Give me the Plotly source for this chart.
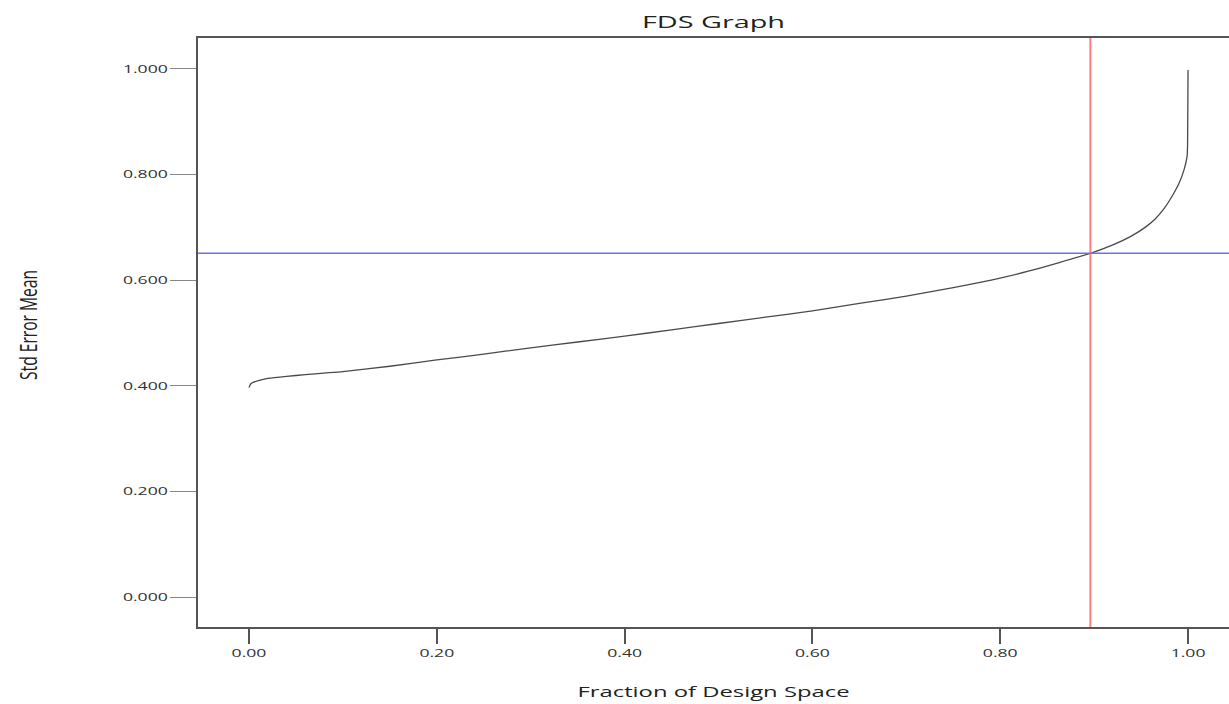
import plotly.graph_objects as go

fraction = [0.000, 0.002, 0.005, 0.01, 0.02, 0.04, 0.06, 0.08, 0.10, 0.15, 0.20, 0.25,
            0.30, 0.35, 0.40, 0.45, 0.50, 0.55, 0.60, 0.65, 0.70, 0.75, 0.80, 0.83,
            0.86, 0.896, 0.92, 0.94, 0.955, 0.965, 0.975, 0.983, 0.99, 0.9957, 0.999,
            0.9995, 1.000]
std_err = [0.397, 0.404, 0.407, 0.410, 0.414, 0.418, 0.421, 0.424, 0.427, 0.437, 0.449, 0.460,
           0.472, 0.483, 0.494, 0.506, 0.518, 0.530, 0.542, 0.556, 0.570, 0.586, 0.604, 0.617,
           0.632, 0.651, 0.667, 0.684, 0.701, 0.716, 0.737, 0.759, 0.782, 0.809, 0.835,
           0.860, 0.998]

ref_x = 0.896
ref_y = 0.651

x_ticks = [0.0, 0.2, 0.4, 0.6, 0.8, 1.0]
y_ticks = [0.0, 0.2, 0.4, 0.6, 0.8, 1.0]

fig = go.Figure()
fig.add_trace(go.Scatter(x=fraction, y=std_err, mode="lines",
                         line=dict(color="#4a4a4a", width=1.3, shape="spline", smoothing=0.6),
                         showlegend=False, hoverinfo="x+y"))

fig.add_shape(type="line", xref="x", yref="paper", x0=ref_x, x1=ref_x, y0=0, y1=1,
              line=dict(color="#ff7f7f", width=2))
fig.add_shape(type="line", xref="paper", yref="y", x0=0, x1=1, y0=ref_y, y1=ref_y,
              line=dict(color="#7070e8", width=1.5))

fig.add_annotation(text="Std Error Mean", xref="paper", yref="paper",
                   x=(28 - 198) / 1031, y=(627 - 325) / 589,
                   xanchor="center", yanchor="middle", textangle=-90, showarrow=False,
                   font=dict(family="Open Sans, sans-serif", size=23, color="#222222"))

fig.update_layout(
    width=1229, height=704,
    margin=dict(l=198, r=0, t=38, b=77),
    plot_bgcolor="white", paper_bgcolor="white",
    title=dict(text="FDS Graph", x=(198 + 1229) / 2 / 1229, xanchor="center",
               y=1 - 22 / 704, yanchor="middle",
               font=dict(family="Open Sans, sans-serif", size=16, color="#222222")),
    xaxis=dict(range=[-0.0543, 1.0436], tickvals=x_ticks, tickformat=".2f",
               showgrid=False, zeroline=False, showline=True, linecolor="#555555",
               linewidth=2, mirror=True, ticks="outside", ticklen=15, tickwidth=1.5,
               tickcolor="#555555",
               tickfont=dict(family="Open Sans, sans-serif", size=11, color="#333333"),
               title=dict(text="Fraction of Design Space", standoff=28,
                          font=dict(family="Open Sans, sans-serif", size=14,
                                    color="#222222"))),
    yaxis=dict(range=[-0.0568, 1.0587], tickvals=y_ticks, tickformat=".3f",
               showgrid=False, zeroline=False, showline=True, linecolor="#555555",
               linewidth=2, mirror=False, ticks="outside", ticklen=26, tickwidth=1.2,
               tickcolor="#888888",
               tickfont=dict(family="Open Sans, sans-serif", size=11, color="#333333")),
)

post = """
function st(sel, f, fixed){
  document.querySelectorAll(sel).forEach(function(t){
    var n = t.getComputedTextLength();
    var L = fixed ? fixed : n * f;
    t.setAttribute('textLength', L);
    t.setAttribute('lengthAdjust', 'spacingAndGlyphs');
  });
}
st('.gtitle', 0, 143);
st('.xtitle', 0, 272);
st('.xtick text', 1.6, 0);
st('.ytick text', 1.6, 0);
st('.annotation-text', 0, 110);
"""

fig.write_html("out.html", post_script=post)
